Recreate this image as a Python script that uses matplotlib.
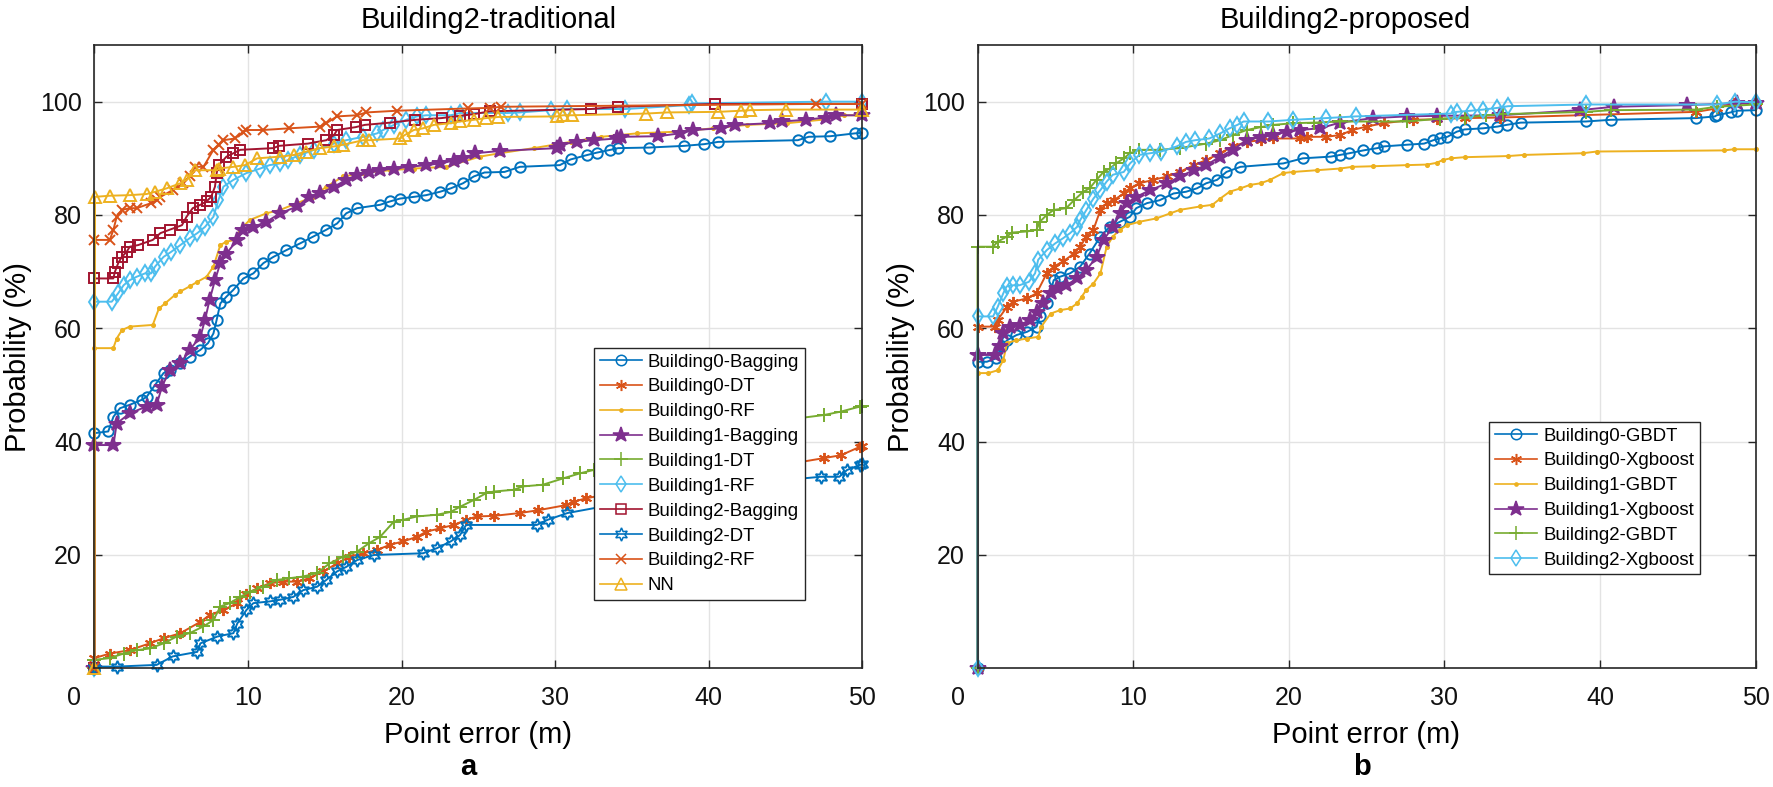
import matplotlib
matplotlib.use('Agg')
import matplotlib.pyplot as plt
import matplotlib.transforms as mtransforms

plt.rcParams['font.family'] = ['Liberation Sans', 'DejaVu Sans']

# ---------------- data: panel a (traditional) ----------------
b0_bag_x = [0, 0, 0.9, 1.24, 1.67, 2.3, 3.1, 3.4, 3.95, 4.5, 4.9, 5.6, 6.2, 6.9, 7.4, 7.75, 7.96, 8.2, 8.6, 9.05,
            9.7, 10.35, 11.0, 11.65, 12.5, 13.4, 14.25, 15.1, 15.8, 16.4, 17.1, 18.6, 19.25, 19.9, 20.8, 21.6, 22.5,
            23.2, 24.0, 24.7, 25.4, 26.7, 27.7, 30.3, 31.0, 32.1, 32.7, 33.6, 34.1, 36.1, 38.4, 39.7, 40.6, 45.8,
            46.5, 47.9, 49.5, 49.95]
b0_bag_y = [0, 41.5, 41.8, 44.4, 45.9, 46.5, 47.4, 47.9, 50.0, 52.1, 52.6, 53.8, 55.0, 56.2, 57.4, 59.1, 61.5, 64.4, 65.6, 66.8,
            68.8, 69.7, 71.5, 72.6, 73.8, 75.0, 76.2, 77.4, 78.5, 80.3, 81.2, 81.8, 82.4, 82.9, 83.2, 83.5, 84.1,
            84.7, 85.6, 86.8, 87.5, 87.6, 88.5, 88.8, 89.8, 90.6, 91.0, 91.5, 91.8, 91.9, 92.2, 92.5, 92.9, 93.2,
            93.8, 93.9, 94.4, 94.5]

b0_dt_x = [0, 0, 1.0, 2.3, 3.6, 4.5, 5.6, 6.9, 7.5, 8.4, 9.3, 9.9, 10.6, 11.4, 12.3, 13.2, 14.0, 14.9, 15.8, 16.6, 17.5,
           18.4, 19.25, 20.1, 21.0, 21.6, 22.5, 23.4, 24.2, 24.9, 26.0, 27.7, 28.9, 30.7, 31.2, 32.0, 35.0, 38.0,
           41.0, 44.0, 47.5, 48.6, 49.85, 50.0]
b0_dt_y = [0, 1.8, 2.6, 3.2, 4.4, 5.3, 6.2, 8.2, 9.4, 10.3, 11.5, 13.2, 14.1, 15.0, 15.3, 15.3, 15.9, 17.1, 18.5, 19.7, 20.3,
           20.9, 21.8, 22.4, 23.2, 24.1, 24.7, 25.3, 26.2, 26.8, 26.9, 27.4, 27.9, 28.8, 29.4, 30.0, 31.5, 33.0,
           34.5, 35.5, 37.1, 37.6, 39.1, 39.2]

b0_rf_x = [0, 0, 1.23, 1.45, 1.8, 2.3, 3.8, 4.2, 4.6, 5.25, 5.6, 6.2, 6.7, 7.3, 7.75, 8.2, 8.6, 9.15, 9.5, 10.1, 11.2,
           12.1, 13.2, 14.25, 15.1, 16.2, 17.5, 19.25, 20.8, 22.9, 25.1, 26.4, 28.6, 31.0, 33.0, 35.3, 37.9, 40.3,
           42.5, 45.1, 47.7, 48.8, 50.0]
b0_rf_y = [0, 56.5, 56.5, 58.2, 59.7, 60.3, 60.6, 63.5, 64.4, 65.9, 66.5, 67.4, 68.2, 69.1, 70.9, 74.7, 75.3, 75.6, 77.4, 79.1, 80.3,
           80.9, 82.1, 83.2, 85.0, 86.8, 87.4, 87.9, 88.2, 88.5, 90.3, 90.9, 91.8, 92.9, 93.8, 94.4, 94.7, 95.3,
           95.9, 96.2, 96.9, 97.6, 97.6]

b1_bag_x = [0, 0, 1.24, 1.45, 2.3, 3.4, 4.05, 4.4, 4.9, 5.6, 6.2, 6.9, 7.2, 7.5, 7.85, 8.2, 8.6, 9.3, 9.7, 10.35, 11.2,
            12.1, 13.2, 14.0, 14.7, 15.6, 16.4, 17.1, 17.9, 18.6, 19.5, 20.5, 21.6, 22.5, 23.4, 24.0, 24.8, 26.4,
            30.1, 30.3, 31.4, 32.5, 34.0, 34.3, 36.7, 38.1, 39.0, 40.8, 41.7, 44.0, 44.75, 46.3, 47.6, 48.3, 50.0]
b1_bag_y = [0, 39.4, 39.4, 43.2, 45.0, 46.2, 46.5, 49.7, 52.6, 53.8, 56.2, 58.5, 61.5, 65.0, 68.5, 71.5, 73.2, 75.6, 77.4, 77.9, 78.8,
            80.3, 81.5, 83.2, 83.8, 85.0, 86.2, 87.1, 87.6, 87.9, 88.2, 88.5, 88.8, 89.1, 89.6, 90.0, 90.9, 91.3,
            91.8, 92.4, 92.9, 93.2, 93.5, 93.8, 93.9, 94.4, 95.0, 95.3, 95.9, 96.2, 96.5, 96.8, 97.2, 97.6, 97.6]

b1_dt_x = [0, 0, 1.0, 1.9, 2.75, 3.6, 4.5, 5.35, 6.2, 7.1, 7.75, 8.2, 8.8, 9.5, 10.1, 11.0, 11.9, 12.7, 13.6, 14.5, 15.3,
           16.2, 17.1, 17.9, 18.6, 19.5, 20.1, 21.0, 22.3, 23.2, 23.8, 24.7, 25.5, 26.0, 27.3, 27.9, 29.2, 30.5,
           31.6, 32.5, 35.0, 38.0, 41.0, 44.0, 47.5, 48.6, 49.85, 50.0]
b1_dt_y = [0, 1.5, 1.8, 2.6, 3.2, 3.5, 4.4, 5.6, 6.2, 7.4, 8.5, 10.9, 11.5, 12.6, 13.5, 14.4, 15.6, 15.9, 16.2, 16.8, 18.5,
           19.7, 20.6, 22.1, 23.2, 25.9, 26.2, 26.8, 27.1, 27.6, 28.5, 29.7, 30.9, 31.2, 31.5, 32.1, 32.4, 33.5,
           34.4, 35.0, 37.0, 39.5, 41.5, 43.5, 44.7, 45.3, 46.2, 46.3]

b1_rf_x = [0, 0, 1.13, 1.55, 1.9, 2.3, 2.75, 3.3, 3.7, 3.95, 4.5, 5.0, 5.6, 6.2, 6.7, 7.2, 7.75, 8.07, 8.4, 9.05, 9.9,
           10.8, 11.4, 12.1, 12.6, 13.4, 14.3, 15.6, 16.4, 17.5, 18.4, 18.8, 19.5, 20.3, 21.0, 21.6, 23.2, 23.8,
           26.9, 27.7, 29.7, 30.8, 34.55, 38.7, 38.9, 47.6, 50.0]
b1_rf_y = [0, 64.7, 64.7, 66.2, 67.6, 68.5, 69.1, 69.7, 69.7, 70.9, 72.6, 73.5, 74.7, 75.9, 76.8, 77.9, 79.7, 82.6, 85.0, 86.2, 87.4,
           88.2, 88.8, 89.1, 89.7, 90.6, 91.5, 92.6, 93.2, 93.8, 94.4, 95.0, 95.9, 96.8, 97.4, 97.6, 97.6, 98.0,
           98.0, 98.1, 98.5, 98.7, 98.7, 99.4, 99.7, 100.0, 100.0]

b2_bag_x = [0, 0, 1.23, 1.34, 1.55, 1.78, 2.1, 2.3, 2.86, 3.8, 4.3, 4.9, 5.7, 6.0, 6.4, 6.9, 7.3, 7.6, 7.85, 7.96, 8.1,
            8.6, 9.05, 9.5, 11.65, 12.0, 13.9, 15.1, 15.6, 15.8, 17.0, 17.6, 19.25, 20.9, 22.6, 23.8, 24.7, 25.75,
            32.3, 34.1, 40.4, 50.0]
b2_bag_y = [0, 68.8, 68.8, 70.0, 71.5, 72.6, 73.5, 74.4, 74.7, 75.6, 76.8, 77.4, 78.2, 79.7, 81.2, 81.8, 82.4, 83.2, 85.0, 87.4, 88.8,
            90.3, 90.9, 91.5, 91.8, 92.2, 92.6, 93.2, 94.1, 95.0, 95.5, 95.9, 96.3, 96.8, 97.1, 97.5, 97.8, 98.3,
            98.7, 99.1, 99.6, 99.6]

b2_dt_x = [0, 0, 1.45, 4.05, 5.1, 6.7, 6.9, 8.0, 9.05, 9.3, 9.9, 10.35, 11.4, 12.1, 12.95, 13.6, 14.5, 15.1, 15.8, 16.4,
           17.1, 18.2, 21.4, 22.3, 23.2, 23.8, 24.2, 28.8, 29.5, 30.8, 33.0, 36.0, 40.0, 44.0, 47.3, 48.5, 49.0,
           49.85, 50.0]
b2_dt_y = [0, 0.3, 0.3, 0.6, 2.1, 2.9, 4.4, 5.6, 6.2, 7.9, 10.3, 11.5, 11.8, 12.1, 12.6, 13.8, 14.4, 15.6, 17.1, 17.9,
           19.1, 20.0, 20.3, 21.2, 22.4, 23.5, 25.3, 25.3, 26.2, 27.4, 28.5, 30.0, 31.5, 33.0, 33.8, 33.8, 35.0,
           35.9, 36.0]

b2_rf_x = [0, 0, 1.0, 1.24, 1.45, 1.8, 2.3, 2.75, 3.7, 4.05, 4.3, 5.1, 5.8, 6.2, 6.55, 7.1, 7.75, 8.1, 8.4, 9.15, 9.7,
           9.9, 11.0, 12.7, 14.7, 15.1, 15.8, 17.1, 17.7, 19.7, 24.3, 25.75, 26.5, 47.0, 50.0]
b2_rf_y = [0, 75.6, 75.6, 77.4, 79.7, 80.9, 81.2, 81.2, 82.1, 82.6, 83.2, 84.4, 85.6, 86.8, 88.5, 88.5, 91.5, 92.4, 93.2, 93.5, 94.7,
           95.0, 95.0, 95.3, 95.6, 96.2, 97.4, 97.6, 98.1, 98.4, 98.8, 98.9, 99.1, 99.6, 99.6]

nn_x = [0, 0.04, 1.0, 2.3, 3.4, 3.95, 4.7, 5.6, 6.0, 6.55, 8.0, 8.1, 9.05, 9.8, 10.6, 12.1, 13.0, 13.8, 14.7, 15.6, 16.2,
        17.5, 17.9, 19.9, 20.2, 20.8, 21.4, 22.1, 23.2, 23.8, 24.7, 25.5, 26.3, 30.1, 30.5, 31.1, 35.9, 37.3, 40.6,
        42.1, 42.7, 45.0, 50.0]
nn_y = [0, 83.2, 83.4, 83.5, 83.7, 84.1, 84.7, 85.6, 86.2, 87.9, 87.9, 88.2, 88.5, 88.8, 90.0, 90.3, 90.6, 91.2, 91.8, 92.1, 92.4,
        93.2, 93.2, 93.5, 94.1, 95.0, 95.3, 95.9, 96.2, 96.5, 96.8, 97.1, 97.3, 97.4, 97.6, 97.6, 97.9, 98.1, 98.2,
        98.4, 98.5, 98.6, 98.6]

labels_a = ['Building0-Bagging', 'Building0-DT', 'Building0-RF', 'Building1-Bagging', 'Building1-DT',
            'Building1-RF', 'Building2-Bagging', 'Building2-DT', 'Building2-RF', 'NN']

# ---------------- data: panel b (proposed) ----------------
g0_x = [0, 0, 0.6, 1.2, 1.55, 1.9, 2.5, 3.2, 3.8, 4.0, 4.45, 4.9, 5.3, 5.95, 6.6, 7.2, 7.9, 8.5, 9.15, 9.8, 10.2, 10.9,
        11.7, 12.6, 13.4, 14.1, 14.7, 15.4, 16.0, 16.9, 19.65, 20.9, 22.7, 23.3, 23.9, 24.8, 25.7, 26.1, 27.6, 28.7,
        29.3, 29.7, 30.2, 30.8, 31.3, 32.5, 33.4, 34.0, 34.9, 39.1, 40.7, 46.2, 47.4, 47.5, 48.4, 48.8, 50.0]
g0_y = [0, 54.1, 54.1, 54.7, 56.8, 57.9, 58.8, 59.4, 60.3, 62.1, 64.4, 68.5, 69.1, 69.7, 70.9, 73.2, 76.2, 77.9, 78.8, 79.7, 81.2, 82.1,
        82.6, 83.8, 84.1, 84.7, 85.6, 86.2, 87.6, 88.5, 89.1, 90.0, 90.3, 90.6, 90.9, 91.4, 91.8, 92.1, 92.4, 92.6,
        93.2, 93.5, 93.8, 94.7, 95.1, 95.3, 95.6, 95.9, 96.3, 96.5, 96.8, 97.1, 97.4, 97.6, 98.1, 98.4, 98.5]

x0_x = [0, 0, 1.1, 1.3, 1.9, 2.3, 3.2, 3.8, 4.45, 4.9, 5.5, 6.2, 6.6, 7.0, 7.45, 7.9, 8.3, 8.75, 9.4, 9.8, 10.4, 11.3,
        12.2, 13.0, 13.9, 14.7, 15.6, 16.4, 17.3, 18.2, 19.0, 20.7, 21.2, 22.4, 23.3, 24.1, 25.0, 26.1, 28.0, 29.5,
        31.3, 33.6, 46.2, 47.5, 48.6, 50.0]
x0_y = [0, 60.3, 60.3, 61.5, 63.8, 64.7, 65.3, 66.2, 69.7, 70.9, 71.8, 73.2, 74.4, 76.2, 77.4, 80.9, 82.1, 82.6, 83.8, 84.7, 85.6, 86.2,
        86.8, 87.6, 88.8, 89.7, 90.9, 92.1, 92.9, 93.2, 93.5, 93.5, 93.8, 93.8, 94.1, 95.0, 95.6, 96.2, 96.8, 96.9,
        97.1, 97.2, 98.2, 98.8, 99.7, 99.7]

g1_x = [0, 0, 0.7, 1.3, 1.66, 1.9, 2.5, 3.2, 3.9, 4.1, 4.7, 5.3, 5.95, 6.4, 6.7, 7.0, 7.45, 7.9, 8.3, 8.7, 9.15, 9.6,
        10.4, 11.5, 12.4, 13.0, 14.3, 15.1, 15.6, 16.2, 16.9, 17.5, 18.2, 18.8, 19.65, 20.3, 21.8, 23.3, 24.1, 25.4,
        27.6, 28.9, 29.5, 29.9, 30.4, 31.3, 34.1, 35.1, 38.9, 39.8, 48.0, 48.6, 50.0]
g1_y = [0, 52.1, 52.1, 52.6, 54.4, 57.4, 57.9, 58.2, 58.5, 60.3, 62.6, 63.2, 63.5, 64.4, 65.6, 66.8, 67.9, 69.7, 74.4, 76.2, 77.4, 78.2,
        78.8, 79.4, 80.3, 80.9, 81.5, 81.8, 82.9, 84.1, 84.7, 85.3, 85.6, 86.2, 87.4, 87.6, 87.9, 88.2, 88.5, 88.6,
        88.8, 88.9, 89.2, 89.7, 90.0, 90.2, 90.4, 90.6, 90.9, 91.2, 91.4, 91.6, 91.6]

x1_x = [0, 0, 1.1, 1.45, 1.66, 2.1, 2.7, 3.4, 3.8, 4.2, 4.7, 5.1, 5.7, 6.4, 7.0, 7.65, 8.1, 8.7, 9.2, 9.6, 10.2, 11.1,
        12.2, 13.0, 13.9, 14.7, 15.6, 16.4, 17.3, 18.2, 19.0, 19.9, 20.7, 22.0, 23.3, 25.4, 27.6, 29.5, 33.6, 38.7,
        40.9, 45.6, 48.8, 50.0]
x1_y = [0, 55.3, 55.3, 56.8, 59.1, 60.3, 60.6, 61.5, 62.9, 64.4, 66.2, 67.1, 67.6, 68.8, 70.3, 72.6, 75.6, 77.9, 80.3, 82.1, 83.2, 84.4,
        85.6, 86.8, 87.9, 88.8, 90.3, 91.5, 93.2, 93.8, 94.1, 94.7, 95.0, 95.3, 96.3, 97.1, 97.4, 97.5, 97.6, 98.5,
        99.1, 99.4, 99.7, 99.7]

g2_x = [0, 0, 1.0, 1.3, 1.9, 2.2, 3.2, 3.8, 4.0, 4.45, 4.9, 5.7, 6.2, 6.8, 7.2, 7.65, 8.1, 8.5, 8.9, 9.4, 9.8, 10.4,
        11.7, 13.0, 14.7, 15.6, 16.4, 17.3, 18.2, 19.0, 20.3, 21.6, 23.3, 27.6, 29.7, 31.3, 32.7, 33.8, 39.1, 40.7,
        46.2, 47.5, 50.0]
g2_y = [0, 74.4, 74.4, 75.3, 76.2, 76.9, 77.1, 77.4, 78.8, 80.0, 80.9, 81.2, 82.6, 84.1, 84.7, 86.2, 87.6, 88.2, 89.1, 90.0, 90.9, 91.5,
        91.5, 91.8, 92.6, 93.2, 94.1, 95.0, 95.5, 95.9, 96.2, 96.3, 96.5, 96.5, 97.0, 97.2, 97.6, 97.8, 98.2, 98.5,
        98.6, 99.1, 99.5]

x2_x = [0, 0, 1.0, 1.3, 1.66, 1.87, 2.3, 2.7, 3.3, 3.7, 3.9, 4.45, 5.0, 5.5, 5.95, 6.4, 6.6, 7.0, 7.45, 7.9, 8.3, 8.7,
        9.4, 9.8, 10.4, 11.1, 11.8, 12.8, 13.4, 14.0, 14.9, 15.6, 16.2, 16.7, 17.1, 18.7, 20.3, 22.4, 24.3, 30.4,
        30.8, 31.7, 32.5, 33.4, 34.1, 39.1, 47.5, 48.7, 50.0]
x2_y = [0, 62.1, 62.1, 63.8, 66.2, 67.4, 67.6, 67.6, 68.2, 69.7, 72.1, 73.8, 75.0, 75.9, 76.8, 77.9, 79.1, 80.9, 82.9, 84.4, 85.9, 87.1,
        87.6, 89.1, 90.6, 90.9, 91.2, 92.1, 92.9, 93.2, 93.5, 94.4, 95.3, 95.9, 96.5, 96.5, 96.8, 97.1, 97.4, 97.9,
        98.2, 98.4, 98.6, 98.9, 99.2, 99.5, 99.5, 100.0, 99.9]

labels_b = ['Building0-GBDT', 'Building0-Xgboost', 'Building1-GBDT', 'Building1-Xgboost',
            'Building2-GBDT', 'Building2-Xgboost']

# ---------------- styles ----------------
C_BLUE, C_ORANGE, C_YELLOW = '#0072BD', '#D95319', '#EDB120'
C_PURPLE, C_GREEN, C_LBLUE, C_RED = '#7E2F8E', '#77AC30', '#4DBEEE', '#A2142F'
HEXAGRAM = (6, 1, 0)
ASTERISK = (6, 2, 0)

style_a = [
    dict(color=C_BLUE, marker='o', ms=7.5, mfc='none'),
    dict(color=C_ORANGE, marker=ASTERISK, ms=8, mfc='none'),
    dict(color=C_YELLOW, marker='.', ms=4.5, mfc=C_YELLOW),
    dict(color=C_PURPLE, marker='*', ms=11.5, mfc=C_PURPLE),
    dict(color=C_GREEN, marker='+', ms=10, mfc='none'),
    dict(color=C_LBLUE, marker='d', ms=8.5, mfc='none'),
    dict(color=C_RED, marker='s', ms=7, mfc='none'),
    dict(color=C_BLUE, marker=HEXAGRAM, ms=9.5, mfc='none'),
    dict(color=C_ORANGE, marker='x', ms=7, mfc='none'),
    dict(color=C_YELLOW, marker='^', ms=9, mfc='none'),
]
series_a = [(b0_bag_x, b0_bag_y), (b0_dt_x, b0_dt_y), (b0_rf_x, b0_rf_y), (b1_bag_x, b1_bag_y),
            (b1_dt_x, b1_dt_y), (b1_rf_x, b1_rf_y), (b2_bag_x, b2_bag_y), (b2_dt_x, b2_dt_y),
            (b2_rf_x, b2_rf_y), (nn_x, nn_y)]

style_b = [style_a[0], style_a[1], style_a[2], style_a[3], style_a[4], style_a[5]]
series_b = [(g0_x, g0_y), (x0_x, x0_y), (g1_x, g1_y), (x1_x, x1_y), (g2_x, g2_y), (x2_x, x2_y)]

W, H = 1773, 787
fig = plt.figure(figsize=(W / 100, H / 100), dpi=100)
axL = fig.add_axes([94.4 / W, (H - 668.3) / H, 768 / W, 623.3 / H])
axR = fig.add_axes([977.5 / W, (H - 668.3) / H, 778 / W, 623.3 / H])


def draw(ax, series, styles, labels):
    for (xs, ys), st, lab in zip(series, styles, labels):
        ax.plot(xs, ys, color=st['color'], lw=1.4, marker=st['marker'], ms=st['ms'],
                mfc=st['mfc'], mec=st['color'], mew=1.4, label=lab, clip_on=False)


def style_axes(ax, title, title_x, legend_anchor):
    ax.set_xlim(0, 50)
    ax.set_ylim(0, 110)
    ax.set_xticks([0, 10, 20, 30, 40, 50])
    ax.set_yticks([20, 40, 60, 80, 100])
    ax.grid(True, color='#e3e3e3', lw=1.0)
    ax.set_axisbelow(True)
    for s in ax.spines.values():
        s.set_color('#262626')
        s.set_linewidth(1.2)
    ax.tick_params(direction='in', length=6, width=1, top=True, right=True, labelsize=18,
                   color='#262626', labelcolor='#111111')
    ax.tick_params(axis='x', pad=13)
    ax.tick_params(axis='y', pad=9)
    ax.set_xlabel('Point error (m)', fontsize=21, labelpad=8)
    ax.set_ylabel('Probability (%)', fontsize=21, labelpad=6)
    ax.set_title(title, fontsize=21, pad=12, x=title_x)
    leg = ax.legend(loc='upper left', bbox_to_anchor=legend_anchor, fontsize=13.4, frameon=True,
                    fancybox=False, edgecolor='#262626', framealpha=1, borderpad=0.3,
                    labelspacing=0.42, handlelength=2.3, handletextpad=0.3, borderaxespad=0)
    leg.get_frame().set_linewidth(1.0)
    for line in leg.get_lines():
        line.set_linewidth(1.2)
        line.set_markeredgewidth(1.1)
    # shift the "0" x tick label left as in the reference
    lab0 = ax.xaxis.get_major_ticks()[0].label1
    lab0.set_transform(lab0.get_transform() + mtransforms.ScaledTranslation(-0.2, 0, fig.dpi_scale_trans))


draw(axL, series_a, style_a, labels_a)
draw(axR, series_b, style_b, labels_b)
style_axes(axL, 'Building2-traditional', 0.513, (0.6505, 0.5139))
style_axes(axR, 'Building2-proposed', 0.473, (0.6575, 0.3952))

fig.text(468 / W, 12 / H, 'a', fontsize=21, fontweight='bold', ha='center', va='baseline')
fig.text(1362 / W, 12 / H, 'b', fontsize=21, fontweight='bold', ha='center', va='baseline')

fig.savefig('out.png', dpi=100)
